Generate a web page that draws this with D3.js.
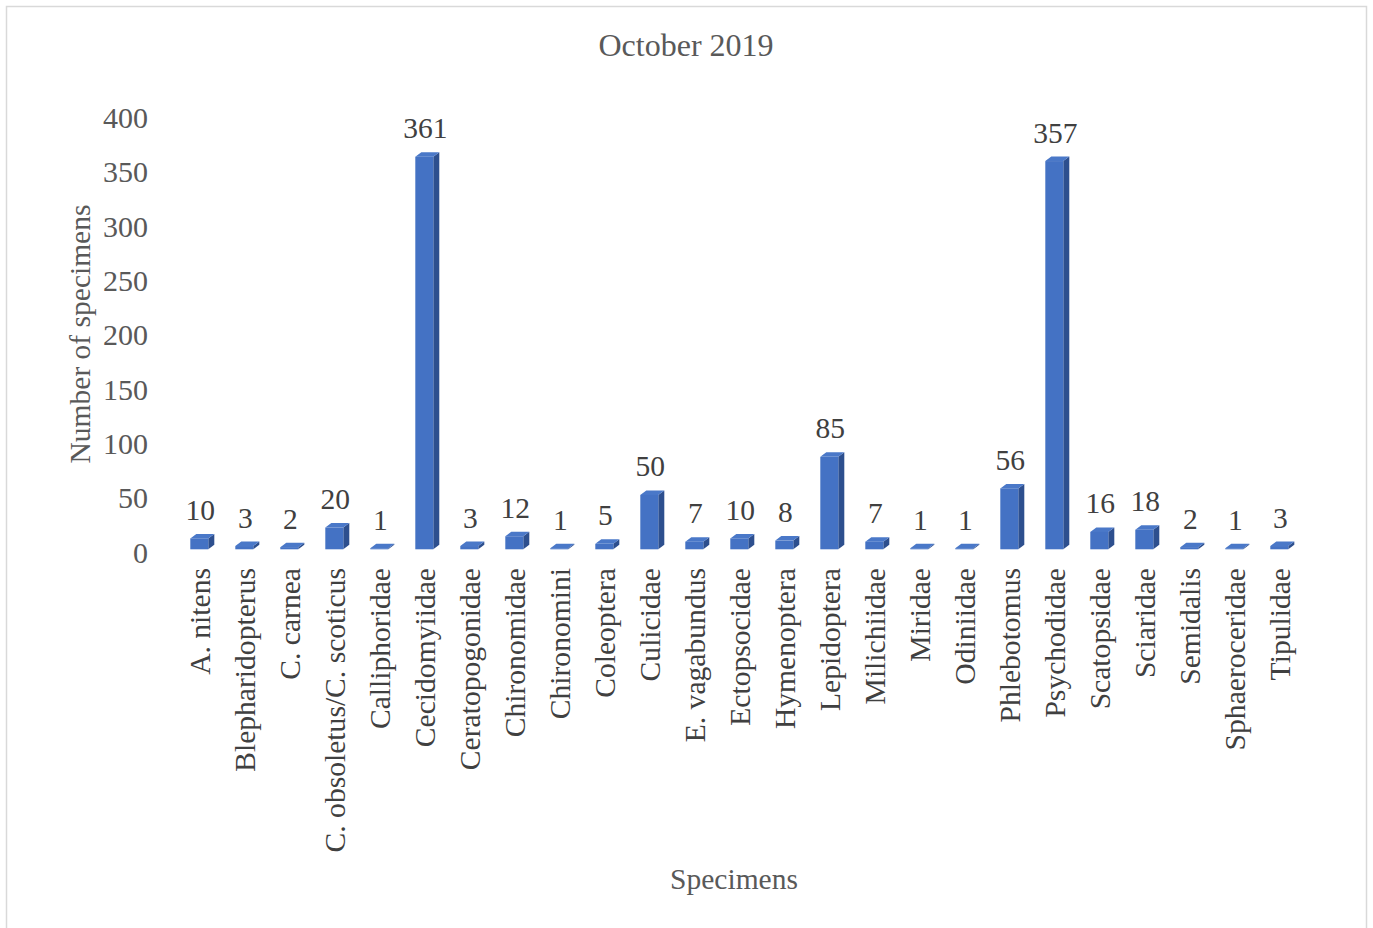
<!DOCTYPE html>
<html>
<head>
<meta charset="utf-8">
<script src="https://cdn.jsdelivr.net/npm/d3@7"></script>
<style>
  html, body { margin: 0; padding: 0; background: #fff; }
  svg { display: block; }
  text { font-family: "Liberation Serif", "Times New Roman", serif; }
</style>
</head>
<body>
<svg id="chart" width="1373" height="928"></svg>
<script>
// Specimen counts collected in October 2019
const categories = [
  "A. nitens", "Blepharidopterus", "C. carnea", "C. obsoletus/C. scoticus",
  "Calliphoridae", "Cecidomyiidae", "Ceratopogonidae", "Chironomidae",
  "Chironomini", "Coleoptera", "Culicidae", "E. vagabundus", "Ectopsocidae",
  "Hymenoptera", "Lepidoptera", "Milichiidae", "Miridae", "Odiniidae",
  "Phlebotomus", "Psychodidae", "Scatopsidae", "Sciaridae", "Semidalis",
  "Sphaeroceridae", "Tipulidae"
];
const counts = [10, 3, 2, 20, 1, 361, 3, 12, 1, 5, 50, 7, 10, 8, 85, 7, 1, 1, 56, 357, 16, 18, 2, 1, 3];
const yTicks = [0, 50, 100, 150, 200, 250, 300, 350, 400];

const chartTitle = "October 2019";
const xTitle = "Specimens";
const yTitle = "Number of specimens";

const svg = d3.select("#chart");

// outer chart frame
svg.append("rect")
  .attr("x", 6.5).attr("y", 6.5)
  .attr("width", 1360).attr("height", 940)
  .attr("fill", "#fff").attr("stroke", "#d9d9d9").attr("stroke-width", 1.5);

const x = d3.scaleBand()
  .domain(categories)
  .range([176.8, 1301.8])
  .paddingInner(0.6)
  .paddingOuter(0.3);

const y = d3.scaleLinear().domain([0, 400]).range([549.3, 114.3]);

// depth offset of the 3-D column faces
const dx = 6, dy = -4.5;

// y-axis tick labels
svg.append("g").selectAll("text")
  .data(yTicks).join("text")
  .attr("x", 148)
  .attr("y", d => y(d) + 3)
  .attr("text-anchor", "end")
  .attr("dominant-baseline", "central")
  .attr("font-size", 30)
  .attr("fill", "#595959")
  .text(d => d);

const bars = svg.append("g").selectAll("g")
  .data(categories.map((c, i) => ({ c, v: counts[i] })))
  .join("g");

// side face
bars.append("path")
  .attr("d", d => {
    const x1 = x(d.c) + x.bandwidth(), y0 = y(0), y1 = y(d.v);
    return `M${x1},${y0} L${x1 + dx},${y0 + dy} L${x1 + dx},${y1 + dy} L${x1},${y1} Z`;
  })
  .attr("fill", "#2d4f8e");

// top face
bars.append("path")
  .attr("d", d => {
    const x0 = x(d.c), x1 = x0 + x.bandwidth(), y1 = y(d.v);
    return `M${x0},${y1} L${x0 + dx},${y1 + dy} L${x1 + dx},${y1 + dy} L${x1},${y1} Z`;
  })
  .attr("fill", "#4a78c8");

// front face
bars.append("rect")
  .attr("x", d => x(d.c))
  .attr("y", d => y(d.v))
  .attr("width", x.bandwidth())
  .attr("height", d => y(0) - y(d.v))
  .attr("fill", "#4472c4");

// value labels
bars.append("text")
  .attr("x", d => x(d.c) + x.bandwidth() / 2 + 1)
  .attr("y", d => y(d.v) - 18.5)
  .attr("text-anchor", "middle")
  .attr("font-size", 29.5)
  .attr("fill", "#404040")
  .text(d => d.v);

// category labels, rotated
svg.append("g").selectAll("text")
  .data(categories).join("text")
  .attr("transform", d => `translate(${x(d) + x.bandwidth() / 2},568) rotate(-90)`)
  .attr("dy", "0.35em")
  .attr("text-anchor", "end")
  .attr("font-size", 29.6)
  .attr("fill", "#404040")
  .text(d => d);

// titles
svg.append("text")
  .attr("x", 686).attr("y", 56)
  .attr("text-anchor", "middle")
  .attr("font-size", 32)
  .attr("fill", "#595959")
  .text(chartTitle);

svg.append("text")
  .attr("x", 734).attr("y", 889)
  .attr("text-anchor", "middle")
  .attr("font-size", 29.5)
  .attr("fill", "#595959")
  .text(xTitle);

svg.append("text")
  .attr("transform", "translate(80,334) rotate(-90)")
  .attr("dy", "0.35em")
  .attr("text-anchor", "middle")
  .attr("font-size", 29.5)
  .attr("fill", "#595959")
  .text(yTitle);
</script>
</body>
</html>
